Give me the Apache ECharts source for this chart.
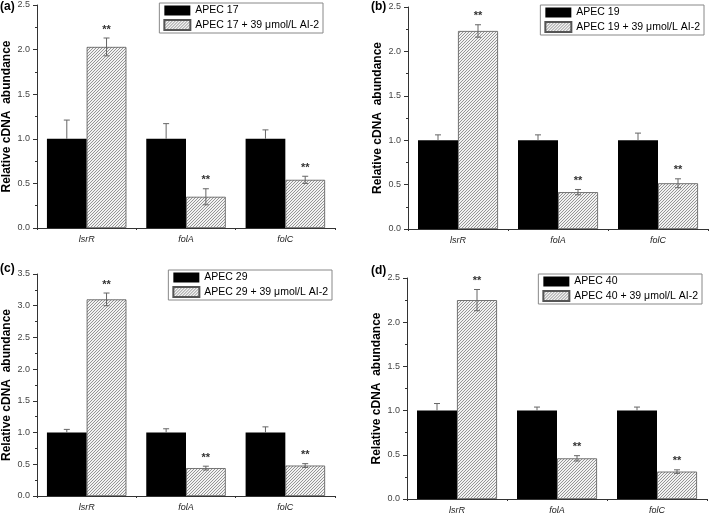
<!DOCTYPE html>
<html><head><meta charset="utf-8">
<script src="https://cdn.jsdelivr.net/npm/echarts@6/dist/echarts.min.js"></script>
<style>html,body{margin:0;padding:0;background:#fff}#c{width:709px;height:515px}</style>
</head><body><div id="c"></div>
<script>
// ---- data ----
const categories = ['lsrR', 'folA', 'folC'];
const panelLabels = ['(a)', '(b)', '(c)', '(d)'];
const strains = ['APEC 17', 'APEC 19', 'APEC 29', 'APEC 40'];
const treatSuffix = ' + 39 \u03bcmol/L AI-2';
const yMax = [2.5, 2.5, 3.5, 2.5];

const ctrlA = [1.0, 1.0, 1.0];
const ctrlErrA = [0.21, 0.17, 0.10];
const trtA = [2.03, 0.35, 0.54];
const trtErrA = [0.10, 0.09, 0.04];

const ctrlB = [1.0, 1.0, 1.0];
const ctrlErrB = [0.06, 0.06, 0.08];
const trtB = [2.23, 0.415, 0.515];
const trtErrB = [0.07, 0.03, 0.05];

const ctrlC = [1.0, 1.0, 1.0];
const ctrlErrC = [0.05, 0.06, 0.09];
const trtC = [3.10, 0.44, 0.48];
const trtErrC = [0.10, 0.03, 0.03];

const ctrlD = [1.0, 1.0, 1.0];
const ctrlErrD = [0.08, 0.04, 0.04];
const trtD = [2.25, 0.46, 0.31];
const trtErrD = [0.12, 0.03, 0.02];

const sigMarks = ['**', '**', '**'];

const panels = [
  {ctrl: ctrlA, ctrlErr: ctrlErrA, trt: trtA, trtErr: trtErrA},
  {ctrl: ctrlB, ctrlErr: ctrlErrB, trt: trtB, trtErr: trtErrB},
  {ctrl: ctrlC, ctrlErr: ctrlErrC, trt: trtC, trtErr: trtErrC},
  {ctrl: ctrlD, ctrlErr: ctrlErrD, trt: trtD, trtErr: trtErrD}
];

// ---- layout ----
const grids = [
  {left: 35, top: 5, width: 300, height: 223},
  {left: 408, top: 7, width: 300, height: 222},
  {left: 36, top: 274, width: 299, height: 222},
  {left: 407, top: 278, width: 300, height: 223}
];
const legendPos = [
  {right: 386, top: 3}, {right: 5, top: 5}, {right: 377, top: 270}, {right: 7, top: 274}
];
const labelPos = [
  {left: 0, top: 1}, {left: 371, top: 1}, {left: 0, top: 263}, {left: 371, top: 265}
];

// hatch pattern
const pc = document.createElement('canvas');
pc.width = 3; pc.height = 3;
const g = pc.getContext('2d');
g.fillStyle = '#f2f2f2'; g.fillRect(0, 0, 3, 3);
g.strokeStyle = '#8a8a8a'; g.lineWidth = 0.9;
g.beginPath();
g.moveTo(-1, 4); g.lineTo(4, -1);
g.moveTo(-1, 1); g.lineTo(1, -1);
g.moveTo(2, 4); g.lineTo(4, 2);
g.stroke();
const hatch = {image: pc, repeat: 'repeat'};

const font = 'Liberation Sans';

function errRender(side, withStars) {
  return function (params, api) {
    const i = api.value(0), v = api.value(1), e = api.value(2);
    const band = api.size([1, 0])[0];
    const x = api.coord([i, v])[0] + side * band * 0.2;
    const yv = api.coord([i, v])[1];
    const top = api.coord([i, v + e])[1];
    const bot = side < 0 ? yv : api.coord([i, v - e])[1];
    const st = {stroke: '#666', lineWidth: 1};
    const ch = [
      {type: 'line', shape: {x1: x, y1: top, x2: x, y2: bot}, style: st},
      {type: 'line', shape: {x1: x - 3, y1: top, x2: x + 3, y2: top}, style: st}
    ];
    if (side > 0) ch.push({type: 'line', shape: {x1: x - 3, y1: bot, x2: x + 3, y2: bot}, style: st});
    if (withStars) ch.push({type: 'text', style: {x: x, y: top - 3, text: sigMarks[i], fill: '#333',
      font: 'bold 11px ' + font, textAlign: 'center', textVerticalAlign: 'bottom'}});
    return {type: 'group', children: ch};
  };
}

const option = {
  animation: false,
  backgroundColor: '#fff',
  textStyle: {fontFamily: font},
  grid: grids,
  graphic: panelLabels.map((t, k) => ({type: 'text', left: labelPos[k].left, top: labelPos[k].top,
    style: {text: t, font: 'bold 12px ' + font, fill: '#000'}})),
  legend: strains.map((s, k) => Object.assign({
    data: [s, s + treatSuffix], orient: 'vertical',
    itemWidth: 26, itemHeight: 10, itemGap: 3, padding: [2, 4, 2, 4], borderColor: '#888', borderWidth: 1,
    icon: 'rect', textStyle: {fontSize: 10.5, color: '#000', fontFamily: font}, selectedMode: false
  }, legendPos[k])),
  xAxis: [],
  yAxis: [],
  series: []
};

panels.forEach((p, k) => {
  option.xAxis.push({type: 'category', gridIndex: k, data: categories,
    axisLine: {lineStyle: {color: '#333', width: 1}},
    axisTick: {alignWithLabel: true, length: 4, lineStyle: {color: '#333'}},
    axisLabel: {fontStyle: 'italic', fontSize: 9, color: '#222', margin: 7, fontFamily: font},
    splitLine: {show: false}});
  option.yAxis.push({type: 'value', gridIndex: k, min: 0, max: yMax[k], interval: 0.5,
    name: 'Relative cDNA  abundance', nameLocation: 'middle', nameGap: 24,
    nameTextStyle: {fontWeight: 'bold', fontSize: 12, color: '#000', fontFamily: font},
    axisLine: {show: true, lineStyle: {color: '#333', width: 1}},
    axisTick: {show: true, length: 4, lineStyle: {color: '#333'}},
    minorTick: {show: true, splitNumber: 2, length: 2, lineStyle: {color: '#333'}},
    axisLabel: {fontSize: 9, color: '#444', margin: 7, fontFamily: font,
      formatter: v => v.toFixed(1)},
    splitLine: {show: false}});
});
// boundary ticks
panels.forEach((p, k) => {
  option.xAxis.push({type: 'category', gridIndex: k, data: categories, position: 'bottom',
    axisLine: {show: false}, axisLabel: {show: false},
    axisTick: {show: true, length: 2, lineStyle: {color: '#333'}}, splitLine: {show: false}});
});

panels.forEach((p, k) => {
  const n1 = strains[k], n2 = strains[k] + treatSuffix;
  option.series.push({type: 'bar', name: n1, xAxisIndex: k, yAxisIndex: k, data: p.ctrl,
    barWidth: '40%', barGap: '0%', itemStyle: {color: '#000'}});
  option.series.push({type: 'bar', name: n2, xAxisIndex: k, yAxisIndex: k, data: p.trt,
    barWidth: '40%', barGap: '0%', itemStyle: {color: hatch, borderColor: '#555', borderWidth: 0.8}});
  option.series.push({type: 'custom', xAxisIndex: k, yAxisIndex: k, z: 5,
    data: p.ctrl.map((v, i) => [i, v, p.ctrlErr[i]]), renderItem: errRender(-1, false),
    encode: {x: 0, y: 1}});
  option.series.push({type: 'custom', xAxisIndex: k, yAxisIndex: k, z: 5,
    data: p.trt.map((v, i) => [i, v, p.trtErr[i]]), renderItem: errRender(1, true),
    encode: {x: 0, y: 1}});
});

const chart = echarts.init(document.getElementById('c'), null, {renderer: 'canvas'});
chart.setOption(option);
</script></body></html>
